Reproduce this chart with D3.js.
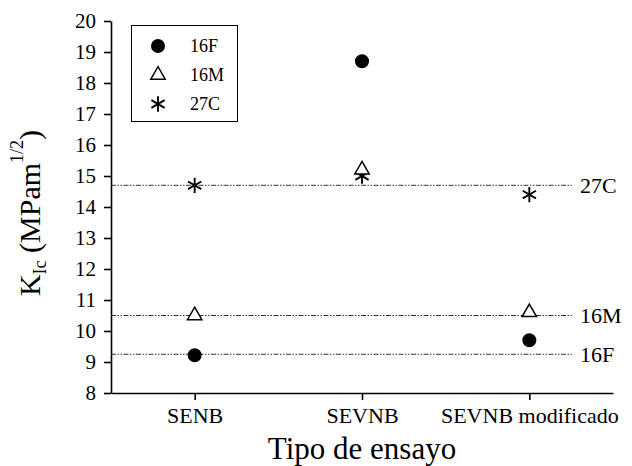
<!DOCTYPE html>
<html>
  <head>
    <meta charset="utf-8">
    <title>KIc por tipo de ensayo</title>
    <style>
      body { margin: 0; background: #fff; }
      svg text { font-family: 'Liberation Serif', serif; fill: #000; }
    </style>
  </head>
  <body>
    <div id="chart"></div>
    <script src="https://d3js.org/d3.v7.min.js"></script>
    <script>
      // data
      const categories = ['SENB', 'SEVNB', 'SEVNB modificado'];
      const seriesNames = ['16F', '16M', '27C'];
      const values16F = [9.22, 18.7, 9.7];
      const values16M = [10.5, 15.2, 10.6];
      const values27C = [14.7, 15.0, 14.4];
      const refNames = ['27C', '16M', '16F'];
      const refValues = [14.7, 10.5, 9.25];
      const yTicks = [8, 9, 10, 11, 12, 13, 14, 15, 16, 17, 18, 19, 20];

      const W = 632, H = 466;
      const margin = {top: 21, right: 19, bottom: 73, left: 111};

      const svg = d3.select('#chart').append('svg')
        .attr('width', W)
        .attr('height', H)
        .attr('font-family', 'Liberation Serif');

      const x = d3.scalePoint()
        .domain(categories)
        .range([margin.left, W - margin.right])
        .padding(0.5);

      const y = d3.scaleLinear()
        .domain([8, 20])
        .range([H - margin.bottom, margin.top]);

      // y axis
      const yAxis = svg.append('g')
        .attr('transform', `translate(${margin.left},0)`)
        .call(d3.axisLeft(y).tickValues(yTicks).tickSize(7).tickSizeOuter(0).tickPadding(8));
      yAxis.attr('font-family', null);
      yAxis.selectAll('text')
        .attr('font-family', 'Liberation Serif')
        .attr('font-size', 21);

      // x axis
      const xAxis = svg.append('g')
        .attr('transform', `translate(0,${H - margin.bottom})`)
        .call(d3.axisBottom(x).tickSize(7).tickSizeOuter(0).tickPadding(7));
      xAxis.attr('font-family', null);
      xAxis.selectAll('text')
        .attr('font-family', 'Liberation Serif')
        .attr('font-size', 22);

      svg.selectAll('.domain, .tick line')
        .attr('stroke', '#000')
        .attr('stroke-width', 1.6);

      // reference lines
      const refs = svg.append('g');
      refNames.forEach((name, i) => {
        refs.append('line')
          .attr('x1', margin.left)
          .attr('x2', 573)
          .attr('y1', y(refValues[i]))
          .attr('y2', y(refValues[i]))
          .attr('stroke', '#333')
          .attr('stroke-width', 1)
          .attr('stroke-dasharray', '5,1.5,1.5,1.5,1.5,1.5');
        refs.append('text')
          .attr('x', 580)
          .attr('y', y(refValues[i]))
          .attr('dy', '0.35em')
          .style('font-size', '22px')
          .text(name);
      });

      // markers
      const symbols = {
        '16F': {type: d3.symbolCircle, size: 154, fill: '#000', stroke: 'none', sw: 0},
        '16M': {type: d3.symbolTriangle, size: 90, fill: '#fff', stroke: '#000', sw: 1.5},
        '27C': {type: d3.symbolAsterisk, size: 165, fill: 'none', stroke: '#000', sw: 1.9}
      };
      const seriesValues = {'16F': values16F, '16M': values16M, '27C': values27C};

      const marks = svg.append('g');
      // 16M drawn last, over the asterisk, as in the figure
      ['16F', '27C', '16M'].forEach(name => {
        const s = symbols[name];
        marks.selectAll(null)
          .data(categories.map((c, i) => ({c: c, v: seriesValues[name][i]})))
          .enter()
          .append('path')
          .attr('transform', d => `translate(${x(d.c)},${y(d.v)})`)
          .attr('d', d3.symbol().type(s.type).size(s.size))
          .attr('fill', s.fill)
          .attr('stroke', s.stroke)
          .attr('stroke-width', s.sw);
      });

      // legend
      const legend = svg.append('g');
      legend.append('rect')
        .attr('x', 131.5)
        .attr('y', 25.5)
        .attr('width', 106)
        .attr('height', 96)
        .attr('fill', '#fff')
        .attr('stroke', '#000')
        .attr('stroke-width', 1);

      seriesNames.forEach((name, i) => {
        const s = symbols[name];
        const ly = 46 + i * 29;
        legend.append('path')
          .attr('transform', `translate(158,${ly})`)
          .attr('d', d3.symbol().type(s.type).size(s.size))
          .attr('fill', s.fill)
          .attr('stroke', s.stroke)
          .attr('stroke-width', s.sw);
        legend.append('text')
          .attr('x', 190)
          .attr('y', ly)
          .attr('dy', '0.35em')
          .style('font-size', '18px')
          .text(name);
      });

      // axis titles
      svg.append('text')
        .attr('x', (margin.left + W - margin.right) / 2)
        .attr('y', 459)
        .attr('text-anchor', 'middle')
        .style('font-size', '31px')
        .text('Tipo de ensayo');

      const yt = svg.append('text')
        .attr('transform', 'translate(40,213) rotate(-90)')
        .attr('text-anchor', 'middle')
        .style('font-size', '30px');
      yt.append('tspan').text('K');
      yt.append('tspan').attr('dy', 6).style('font-size', '18px').text('Ic');
      yt.append('tspan').attr('dy', -6).text(' (MPam');
      yt.append('tspan').attr('dy', -17).style('font-size', '18px').text('1/2');
      yt.append('tspan').attr('dy', 17).text(')');
    </script>
  </body>
</html>
